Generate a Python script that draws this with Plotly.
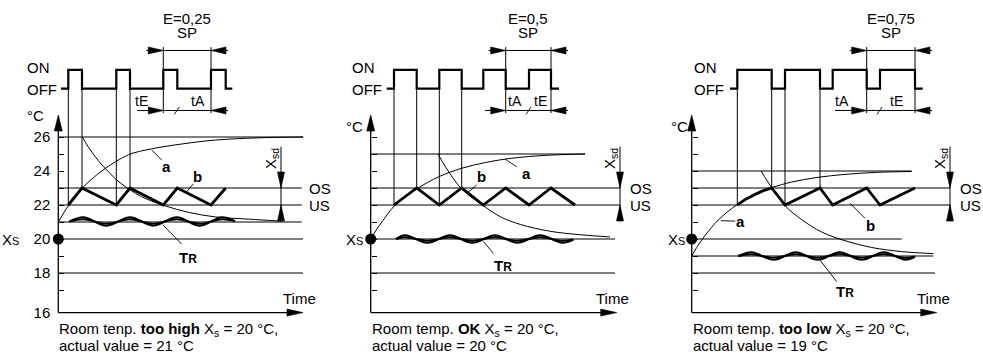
import plotly.graph_objects as go

FONT = "Liberation Sans, Arial, Helvetica, sans-serif"
W, H = 983, 355
PX_T = 1 / 17.0                      # degrees per screen pixel on the vertical scale
Y_RANGE = [13.1765, 34.0588]

# ---------------- shared levels (in °C units of the chart scale) ----------------
OS_LEVEL, US_LEVEL = 23, 22
PULSE_ON, PULSE_OFF = 29.95, 28.85
AXIS_BASE, AXIS_TIP = 15.67, 27.29
SP_Y, TA_Y = 31.09, 27.56
EXT_TOP, EXT_BOT = 31.29, 27.41
XSD_TOP, XSD_BOT = 25.43, 21.03

TICK_VALS = [AXIS_BASE, 18, 20, 22, 24, 26]
TICK_TEXT = ["16", "18", "20", "22", "24", "26"]
MINOR_TICK_VALS = [17, 19, 21, 23, 25]

# ---------------- panel 1 : too high, E = 0.25 ----------------
P1_RISE = [10, 58, 105, 152.7]
P1_FALL = [23.7, 71.7, 119, 167.4]
P1_SPAN = [2.7, 174]
P1_B_T = [10, 23.7, 58, 71.7, 105, 119, 152.7, 167.4]
P1_B_V = [22, 23, 22, 23, 22, 23, 22, 23]
P1_A_T = [0, 10, 24, 35, 47, 70, 93, 125, 157, 200, 245]
P1_A_V = [21, 21.95, 23.0, 23.6, 24.15, 24.95, 25.3, 25.6, 25.82, 25.95, 26.0]
P1_C_T = [24, 30, 40, 50, 62, 83, 107, 130, 157, 190, 222.7]
P1_C_V = [26, 25.42, 24.61, 23.96, 23.3, 22.5, 21.95, 21.57, 21.3, 21.17, 21.05]
P1_TR_T = [11, 25, 48.4, 71.7, 95, 118.4, 141.7, 163.4, 176.7]
P1_TR_HI = [21.02, 21.28, 20.78, 21.28, 20.78, 21.28, 20.78, 21.28, 21.05]
P1_TR_LO = [21.02, 21.16, 20.9, 21.16, 20.9, 21.16, 20.9, 21.16, 21.05]
P1_LEVELS = [26, 23, 22, 21, 20, 18]
P1_LEVEL_END = [244.7, 243.4, 243.4, 243.4, 244.7, 244.7]

# ---------------- panel 2 : OK, E = 0.5 ----------------
P2_RISE = [23.3, 68.6, 112.6, 158.3]
P2_FALL = [46, 91, 135, 180.3]
P2_SPAN = [16, 188.3]
P2_B_T = [23.3, 46, 68.6, 91, 112.6, 135, 158.3, 180.3, 204.3]
P2_B_V = [22, 23, 22, 23, 22, 23, 22, 23, 22]
P2_A_T = [0, 5, 12, 24, 46, 68, 91, 115, 141, 175, 214.3]
P2_A_V = [20, 20.48, 21.07, 21.96, 22.94, 23.66, 24.16, 24.5, 24.75, 24.92, 25.0]
P2_C_T = [67.3, 75, 91, 112.6, 130, 150, 180, 210, 239.3]
P2_C_V = [25, 24.23, 22.94, 21.96, 21.3, 20.85, 20.45, 20.25, 20.12]
P2_TR_T = [25.3, 34.3, 56.6, 79.3, 101.6, 124.3, 146.6, 169.3, 191.6, 202.6]
P2_TR_HI = [20.0, 20.22, 19.78, 20.22, 19.78, 20.22, 19.78, 20.22, 19.78, 19.95]
P2_TR_LO = [20.0, 20.1, 19.9, 20.1, 19.9, 20.1, 19.9, 20.1, 19.9, 19.97]
P2_LEVELS = [25, 23, 22, 20, 18]
P2_LEVEL_END = [214.3, 249.3, 249.3, 244.3, 244.3]

# ---------------- panel 3 : too low, E = 0.75 ----------------
P3_RISE = [45.6, 93.3, 141, 188.3]
P3_FALL = [80, 128.3, 175, 223.3]
P3_SPAN = [38.3, 231]
P3_B_T = [45.6, 54, 63, 71, 80, 93.3, 128.3, 141, 175, 188.3, 223.3]
P3_B_V = [22, 22.34, 22.61, 22.83, 23, 22, 23, 22, 23, 22, 23]
P3_A_T = [0, 5, 10, 18, 26.6, 45.6, 63, 80, 100, 126.6, 153.3, 185, 220]
P3_A_V = [19, 19.5, 19.94, 20.55, 21.12, 22.03, 22.61, 23.02, 23.35, 23.63, 23.8, 23.92, 23.97]
P3_C_T = [69.3, 75, 80.6, 93.3, 110, 130, 153.3, 180, 210, 241.6]
P3_C_V = [24, 23.47, 22.98, 21.96, 21.14, 20.41, 19.9, 19.5, 19.26, 19.14]
P3_TR_T = [46.6, 60, 82, 104, 126, 148, 170, 192, 213.6, 223.3]
P3_TR_HI = [19.0, 19.22, 18.78, 19.22, 18.78, 19.22, 18.78, 19.22, 18.78, 18.95]
P3_TR_LO = [19.0, 19.1, 18.9, 19.1, 18.9, 19.1, 18.9, 19.1, 18.9, 18.97]
P3_LEVELS = [24, 23, 22, 20, 19, 18]
P3_LEVEL_END = [220, 258.3, 258.3, 210, 241.6, 243.3]

SETPOINT = 20
E_LABELS = ["E=0,25", "E=0,5", "E=0,75"]
CAPTION_1 = ["Room tenp. <b>too high</b> X<sub>s</sub> = 20 °C,",
             "Room temp. <b>OK</b> X<sub>s</sub> = 20 °C,",
             "Room temp. <b>too low</b> X<sub>s</sub> = 20 °C,"]
CAPTION_2 = ["actual value = 21 °C", "actual value = 20 °C", "actual value = 19 °C"]

# ---------------- layout / placement table ----------------
PANELS = [
    dict(rise=P1_RISE, fall=P1_FALL, span=P1_SPAN, bt=P1_B_T, bv=P1_B_V, at=P1_A_T, av=P1_A_V,
         ct=P1_C_T, cv=P1_C_V, trt=P1_TR_T, trh=P1_TR_HI, trl=P1_TR_LO,
         lv=P1_LEVELS, le=P1_LEVEL_END,
         origin=58.3, dom=(0, 325), sp=("rise", 2), xsd=222.7, os_x=248.4, xtip=244.7,
         left_ext=26.3, t_labels=[("tE", 83.4), ("tA", 139.4)],
         a_lab=(108.4, 24.25), a_lead=[(93.4, 25.24), (103.4, 24.65)],
         b_lab=(139.4, 23.66), b_lead=[(128.4, 22.78), (135, 23.24)],
         tr_lab=(129.7, 18.94), tr_lead=[(104.7, 20.82), (123.4, 19.7)],
         onoff_x=-33.3, degc=(-23.3, 27.29), xs_x=-37.6, ticklabels=True),
    dict(rise=P2_RISE, fall=P2_FALL, span=P2_SPAN, bt=P2_B_T, bv=P2_B_V, at=P2_A_T, av=P2_A_V,
         ct=P2_C_T, cv=P2_C_V, trt=P2_TR_T, trh=P2_TR_HI, trl=P2_TR_LO,
         lv=P2_LEVELS, le=P2_LEVEL_END,
         origin=370.7, dom=(325, 655), sp=("fall", 2), xsd=249.3, os_x=257, xtip=246,
         left_ext=20.7, t_labels=[("tA", 144.3), ("tE", 169.3)],
         a_lab=(156, 23.88), a_lead=[(134.3, 24.7), (146, 24.25)],
         b_lab=(111, 23.66), b_lead=[(97.6, 22.75), (106, 23.18)],
         tr_lab=(132.6, 18.43), tr_lead=[(112.6, 19.86), (122.6, 19.16)],
         onoff_x=-20.7, degc=(-16.7, 26.6), xs_x=-5.7, ticklabels=False),
    dict(rise=P3_RISE, fall=P3_FALL, span=P3_SPAN, bt=P3_B_T, bv=P3_B_V, at=P3_A_T, av=P3_A_V,
         ct=P3_C_T, cv=P3_C_V, trt=P3_TR_T, trh=P3_TR_HI, trl=P3_TR_LO,
         lv=P3_LEVELS, le=P3_LEVEL_END,
         origin=691.7, dom=(655, 983), sp=("fall", 2), xsd=258.3, os_x=266.6, xtip=245,
         left_ext=31.7, t_labels=[("tA", 150), ("tE", 205)],
         a_lab=(49, 21.02), a_lead=[(29, 21.08), (43.5, 21.05)],
         b_lab=(178.3, 20.82), b_lead=[(158.3, 22.1), (173.3, 21.22)],
         tr_lab=(153.3, 16.9), tr_lead=[(128.3, 18.76), (145, 17.49)],
         onoff_x=0, degc=(-12.7, 26.6), xs_x=-5, ticklabels=False),
]

fig = go.Figure()
annotations = []


def line(xr, yr, xs, ys, width=1.0, shape="linear"):
    fig.add_trace(go.Scatter(x=xs, y=ys, mode="lines", xaxis=xr, yaxis=yr, hoverinfo="skip",
                             line=dict(color="black", width=width, shape=shape)))


def head(pts, tip_t, tip_v, direction, length=15.0, half=3.5):
    if direction == "right":
        b = tip_t - length
        poly = [(tip_t, tip_v), (b, tip_v + half * PX_T), (b, tip_v - half * PX_T)]
    elif direction == "left":
        b = tip_t + length
        poly = [(tip_t, tip_v), (b, tip_v + half * PX_T), (b, tip_v - half * PX_T)]
    elif direction == "up":
        b = tip_v - length * PX_T
        poly = [(tip_t, tip_v), (tip_t - half, b), (tip_t + half, b)]
    else:
        b = tip_v + length * PX_T
        poly = [(tip_t, tip_v), (tip_t - half, b), (tip_t + half, b)]
    pts.append(poly + [poly[0]])


def text(xr, yr, t, v, s, size=15, xanchor="center", yanchor="middle", angle=0):
    annotations.append(dict(x=t, y=v, xref=xr, yref=yr, text=s, showarrow=False,
                            xanchor=xanchor, yanchor=yanchor, textangle=angle,
                            font=dict(family=FONT, size=size, color="black")))


for i, p in enumerate(PANELS):
    n = "" if i == 0 else str(i + 1)
    xr, yr = "x" + n, "y" + n
    heads = []

    # horizontal reference lines
    hx, hy = [], []
    for lv, le in zip(p["lv"], p["le"]):
        hx += [0, le, None]
        hy += [lv, lv, None]
    line(xr, yr, hx, hy, 1.1)

    # coordinate axes with arrows
    line(xr, yr, [0, 0], [AXIS_BASE, AXIS_TIP - 10 * PX_T], 1.3)
    head(heads, 0, AXIS_TIP, "up", 16, 4)
    line(xr, yr, [0, p["xtip"] - 10], [AXIS_BASE, AXIS_BASE], 1.3)
    head(heads, p["xtip"], AXIS_BASE, "right", 16, 3.5)

    # switching signal ON / OFF
    px_, py_ = [p["span"][0]], [PULSE_OFF]
    for r, f in zip(p["rise"], p["fall"]):
        px_ += [r, r, f, f]
        py_ += [PULSE_OFF, PULSE_ON, PULSE_ON, PULSE_OFF]
    px_.append(p["span"][1])
    py_.append(PULSE_OFF)
    line(xr, yr, px_, py_, 2.2)

    # drop lines from the first two pulses to curve b
    bmap = dict(zip(p["bt"], p["bv"]))
    vx, vy = [], []
    for t in [p["rise"][0], p["fall"][0], p["rise"][1], p["fall"][1]]:
        vx += [t, t, None]
        vy += [PULSE_OFF, bmap[t], None]
    line(xr, yr, vx, vy, 1.0)

    # heating curve a, cooling curve, room temperature TR, switching curve b
    line(xr, yr, p["at"], p["av"], 1.0, "spline")
    line(xr, yr, p["ct"], p["cv"], 1.0, "spline")
    line(xr, yr, p["trt"], p["trh"], 2.0, "spline")
    line(xr, yr, p["trt"], p["trl"], 2.0, "spline")
    line(xr, yr, p["bt"], p["bv"], 2.8)

    # leader lines
    for lead in (p["a_lead"], p["b_lead"], p["tr_lead"]):
        line(xr, yr, [lead[0][0], lead[1][0]], [lead[0][1], lead[1][1]], 0.9)

    # SP / tE / tA dimensioning
    edges = p["rise"] if p["sp"][0] == "rise" else p["fall"]
    other = p["fall"] if p["sp"][0] == "rise" else p["rise"]
    k = p["sp"][1]
    sp0, sp1 = edges[k], edges[k + 1]
    mark = other[k] if p["sp"][0] == "rise" else other[k + 1]
    line(xr, yr, [sp0, sp0, None, sp1, sp1], [EXT_TOP, EXT_BOT, None, EXT_TOP, EXT_BOT], 1.0)
    line(xr, yr, [sp0 - 17, sp1 + 17], [SP_Y, SP_Y], 1.0)
    head(heads, sp0, SP_Y, "right")
    head(heads, sp1, SP_Y, "left")
    line(xr, yr, [sp0 - p["left_ext"], sp1 + 17], [TA_Y, TA_Y], 1.0)
    head(heads, sp0, TA_Y, "right")
    head(heads, sp1, TA_Y, "left")
    line(xr, yr, [mark - 3, mark + 2], [TA_Y - 4 * PX_T, TA_Y + 3.5 * PX_T], 0.9)
    text(xr, yr, (sp0 + sp1) / 2, 33.0, E_LABELS[i])
    text(xr, yr, (sp0 + sp1) / 2, 32.12, "SP")
    for lab, tx in p["t_labels"]:
        text(xr, yr, tx, 28.1, lab, size=14)

    # switching differential Xsd
    line(xr, yr, [p["xsd"], p["xsd"]], [XSD_TOP, XSD_BOT], 1.0)
    head(heads, p["xsd"], OS_LEVEL, "down", 16, 3.5)
    head(heads, p["xsd"], US_LEVEL, "up", 16, 3.5)
    text(xr, yr, p["xsd"] - 10, 24.7, "X<sub>sd</sub>", angle=-90)
    text(xr, yr, p["os_x"], OS_LEVEL, "OS", xanchor="left")
    text(xr, yr, p["os_x"], US_LEVEL, "US", xanchor="left")

    # arrow heads
    ax_, ay_ = [], []
    for poly in heads:
        ax_ += [q[0] for q in poly] + [None]
        ay_ += [q[1] for q in poly] + [None]
    fig.add_trace(go.Scatter(x=ax_, y=ay_, mode="lines", fill="toself", fillcolor="black",
                             xaxis=xr, yaxis=yr, hoverinfo="skip",
                             line=dict(color="black", width=0.6)))

    # setpoint dot
    fig.add_trace(go.Scatter(x=[0], y=[SETPOINT], mode="markers", xaxis=xr, yaxis=yr,
                             cliponaxis=False, hoverinfo="skip",
                             marker=dict(color="black", size=11)))

    # labels
    text(xr, yr, p["onoff_x"], 30.06, "ON", xanchor="left")
    text(xr, yr, p["onoff_x"], 28.82, "OFF", xanchor="left")
    text(xr, yr, p["degc"][0], p["degc"][1], "°C")
    text(xr, yr, p["xs_x"], SETPOINT, 'X<span style="font-size:11px">S</span>', xanchor="right")
    text(xr, yr, p["a_lab"][0], p["a_lab"][1], "<b>a</b>")
    text(xr, yr, p["b_lab"][0], p["b_lab"][1], "<b>b</b>")
    text(xr, yr, p["tr_lab"][0], p["tr_lab"][1], '<b>T<span style="font-size:12px">R</span></b>')
    text(xr, yr, 241.5, 16.51, "Time")
    text(xr, yr, -1, 14.68, CAPTION_1[i], xanchor="left")
    text(xr, yr, -1, 13.74, CAPTION_2[i], xanchor="left")

    d0, d1 = p["dom"]
    fig.layout["xaxis" + n] = dict(domain=[d0 / W, d1 / W], range=[d0 - p["origin"], d1 - p["origin"]],
                                   visible=False, anchor=yr, fixedrange=True)
    fig.layout["yaxis" + n] = dict(domain=[0, 1], range=Y_RANGE, anchor="free", position=p["origin"] / W,
                                   showline=False, showgrid=False, zeroline=False,
                                   tickmode="array", tickvals=TICK_VALS, ticktext=TICK_TEXT,
                                   ticks="inside", ticklen=5, tickwidth=1.1, tickcolor="black",
                                   minor=dict(tickmode="array", tickvals=MINOR_TICK_VALS,
                                              ticks="inside", ticklen=5, tickwidth=1.1,
                                              tickcolor="black", showgrid=False),
                                   showticklabels=p["ticklabels"], ticklabelstandoff=8,
                                   tickfont=dict(family=FONT, size=15, color="black"),
                                   fixedrange=True)

fig.update_layout(width=W, height=H, margin=dict(l=0, r=0, t=0, b=0),
                  paper_bgcolor="white", plot_bgcolor="white", showlegend=False,
                  annotations=annotations, font=dict(family=FONT, size=15, color="black"))

fig.write_html("out.html", config={"displayModeBar": False},
               post_script="document.body.style.margin='0';document.body.style.overflow='hidden';")
